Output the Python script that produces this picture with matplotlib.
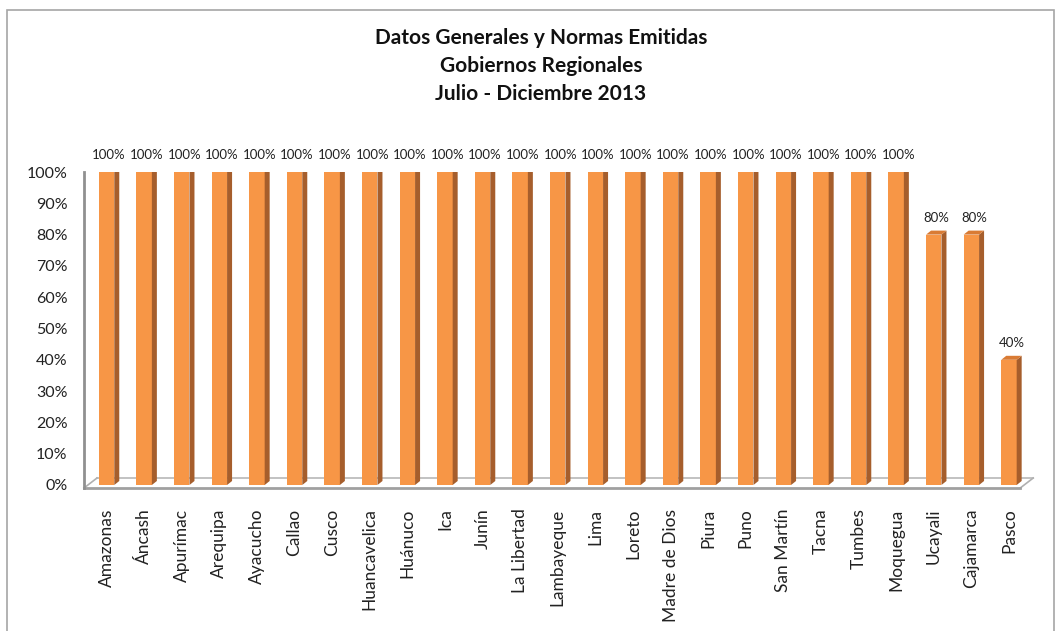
import matplotlib
matplotlib.use("Agg")
import matplotlib.pyplot as plt
from matplotlib.patches import Polygon, Rectangle
from matplotlib.lines import Line2D

categories = ["Amazonas", "Áncash", "Apurímac", "Arequipa", "Ayacucho", "Callao",
              "Cusco", "Huancavelica", "Huánuco", "Ica", "Junín", "La Libertad",
              "Lambayeque", "Lima", "Loreto", "Madre de Dios", "Piura", "Puno",
              "San Martín", "Tacna", "Tumbes", "Moquegua", "Ucayali", "Cajamarca",
              "Pasco"]
values = [1.0] * 22 + [0.8, 0.8, 0.4]
yticks = [0, 0.1, 0.2, 0.3, 0.4, 0.5, 0.6, 0.7, 0.8, 0.9, 1.0]
title_lines = ["Datos Generales y Normas Emitidas", "Gobiernos Regionales",
               "Julio - Diciembre 2013"]

FONT = ["Lato", "DejaVu Sans"]
plt.rcParams['font.family'] = FONT

W, H = 1055, 631
fig = plt.figure(figsize=(W / 100, H / 100), dpi=100)

# outer chart border
fig.patches.append(Rectangle((7 / W, -0.05), (1054 - 7) / W, (H - 10) / H + 0.05,
                             transform=fig.transFigure, fill=False,
                             edgecolor="#A6A6A6", linewidth=1.2))

ax_left, ax_right = 84, 1024
y0_px, y100_px = 485, 172
ax = fig.add_axes([ax_left / W, (H - y0_px) / H, (ax_right - ax_left) / W,
                   (y0_px - y100_px) / H])
n = len(categories)
ax.set_xlim(-0.6, n - 0.6)
ax.set_ylim(0, 1)
for s in ax.spines.values():
    s.set_visible(False)

# pixel-to-data conversion for 3D depth effect
px_x = (n) / (ax_right - ax_left)
px_y = 1.0 / (y0_px - y100_px)
dx, dy = 5 * px_x, 4 * px_y
bw = 0.41

front = "#F79646"
side = "#A65E2C"
topc = "#D97B34"

xs = list(range(n))
ax.bar(xs, values, width=bw, color=front, zorder=3)
for x, v in zip(xs, values):
    r = x + bw / 2
    l = x - bw / 2
    ax.add_patch(Polygon([(r, 0), (r + dx, dy), (r + dx, v + dy), (r, v)],
                         closed=True, facecolor=side, edgecolor="none", zorder=3))
    ax.add_patch(Polygon([(l, v), (l + dx, v + dy), (r + dx, v + dy), (r, v)],
                         closed=True, facecolor=topc, edgecolor="none", zorder=3))
    ax.text(x + dx / 2, v + dy + 7 * px_y, f"{v:.0%}", ha="center", va="bottom",
            fontsize=9.5, color="#222222", zorder=4)

# floor
fx0, fx1 = -0.6, n - 0.6 - 0.1
fy = -3 * px_y
fdx, fdy = 13 * px_x, 10 * px_y
ax.add_line(Line2D([fx0, fx1], [fy, fy], color="#A0A0A0", lw=2, zorder=2,
                   clip_on=False))
ax.add_line(Line2D([fx0 + fdx, fx1 + fdx], [fy + fdy, fy + fdy], color="#B8B8B8",
                   lw=1.2, zorder=1, clip_on=False))
ax.add_line(Line2D([fx0, fx0 + fdx], [fy, fy + fdy], color="#B0B0B0", lw=1.2,
                   zorder=1, clip_on=False))
ax.add_line(Line2D([fx1, fx1 + fdx], [fy, fy + fdy], color="#B0B0B0", lw=1.2,
                   zorder=1, clip_on=False))
# y axis line
ax.add_line(Line2D([fx0, fx0], [fy, 1.0], color="#909090", lw=2, zorder=2,
                   clip_on=False))

ax.set_yticks(yticks)
ax.set_yticklabels([f"{t:.0%}" for t in yticks], fontsize=11.5, color="#222222")
ax.tick_params(axis="y", length=0, pad=12)
ax.set_xticks(xs)
ax.set_xticklabels(categories, rotation=90, fontsize=12.5, color="#222222")
ax.tick_params(axis="x", length=0, pad=17)

for i, line in enumerate(title_lines):
    fig.text(541 / W, 1 - (38 + i * 28) / H, line, ha="center", va="center",
             fontsize=15, fontweight="bold", color="#111111")

fig.savefig("out.png", dpi=100)
